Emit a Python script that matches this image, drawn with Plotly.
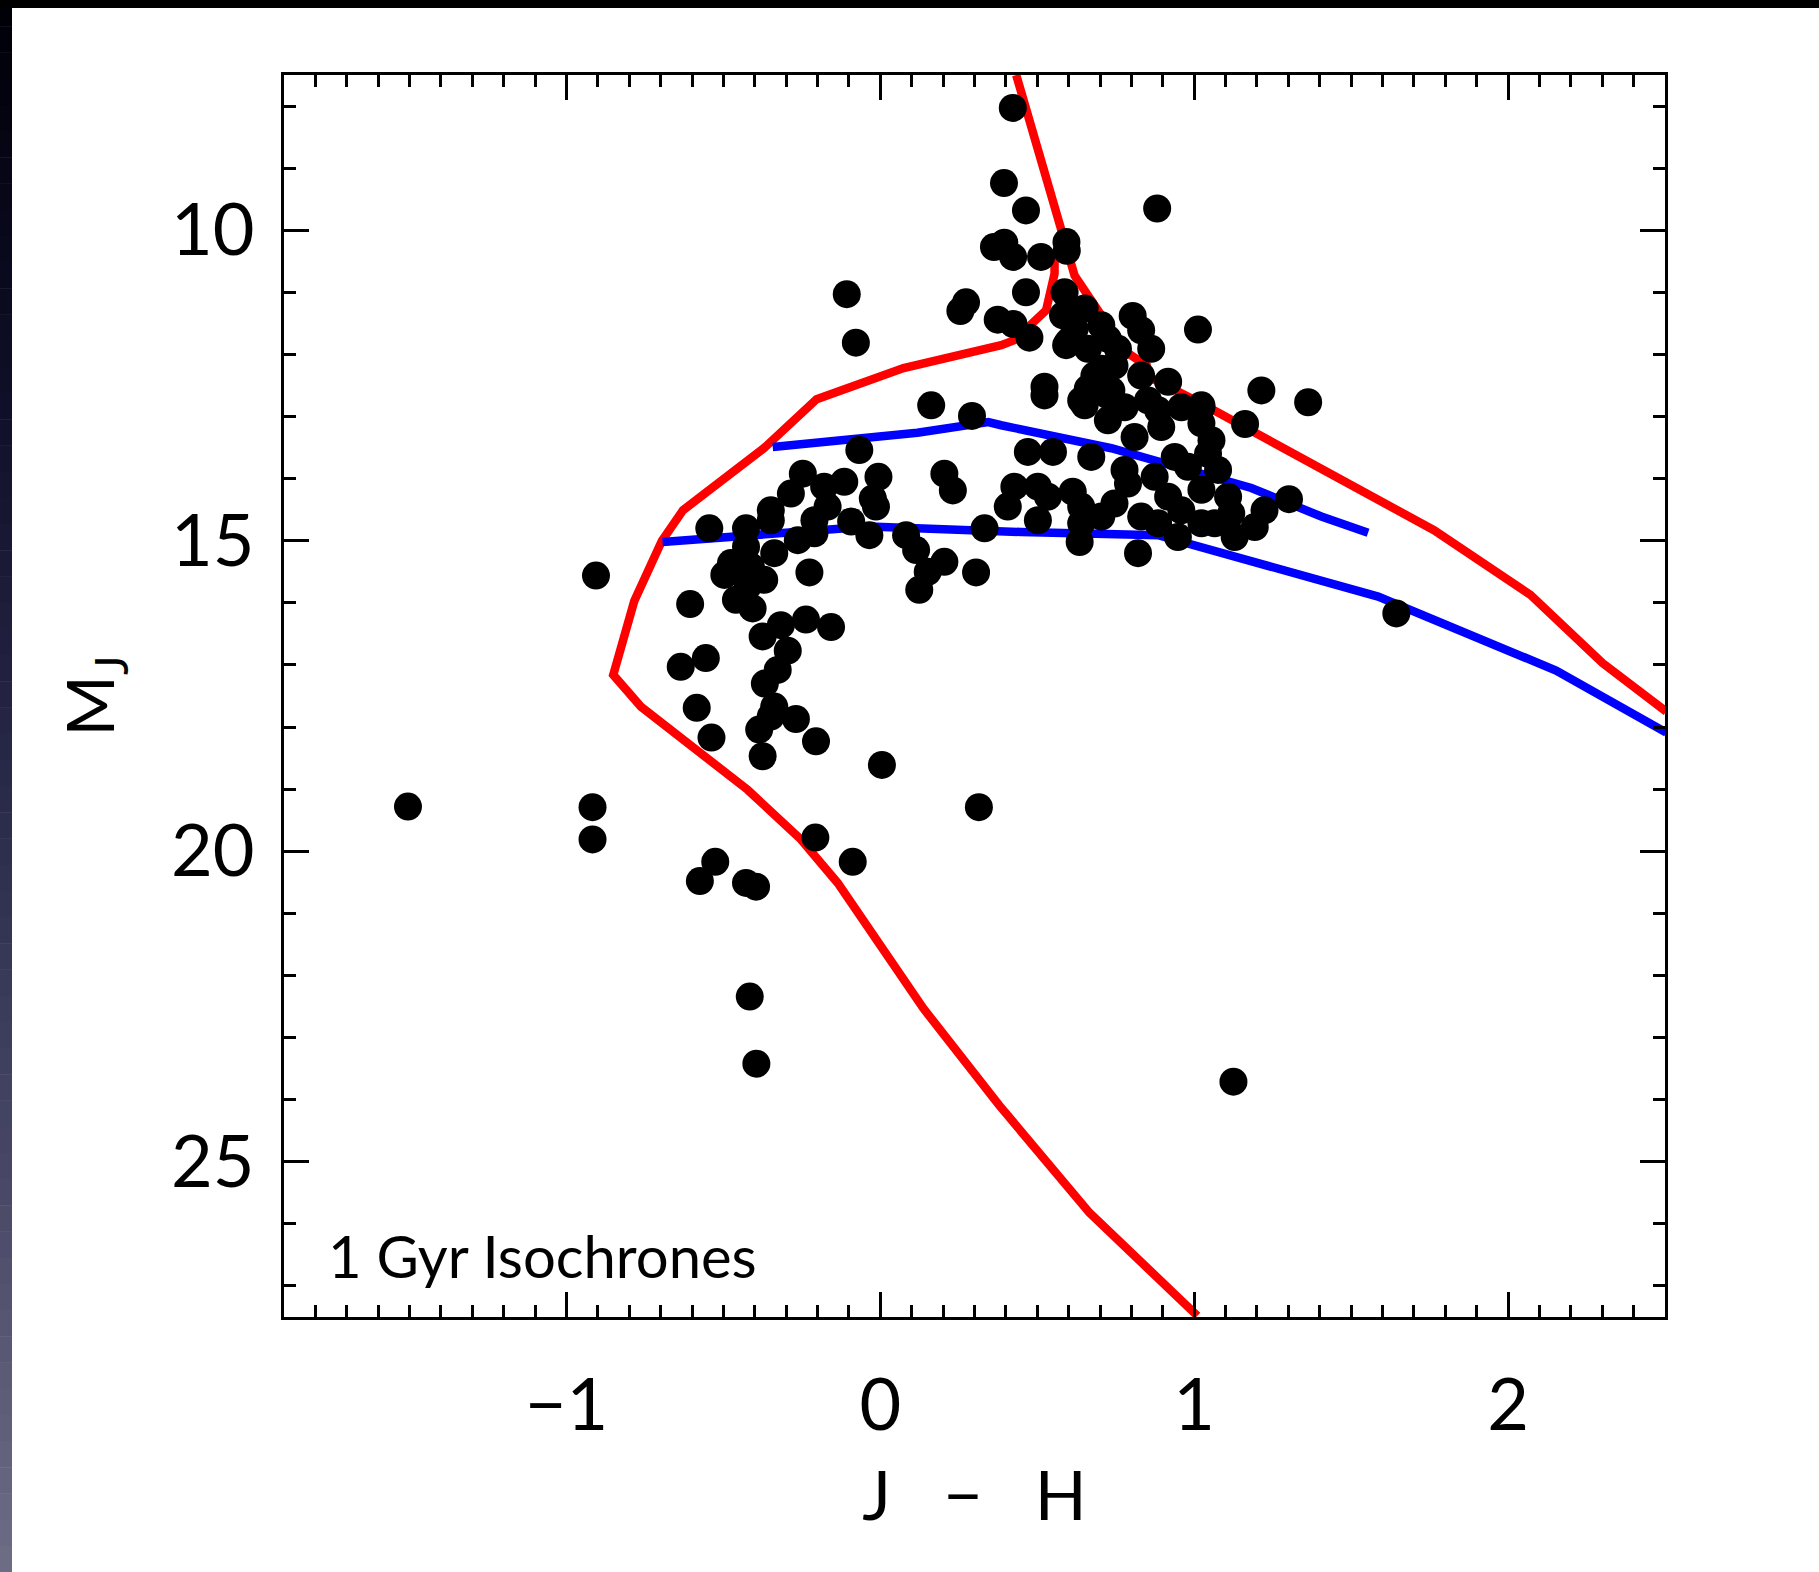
import plotly.graph_objects as go

# ---- sample: J-H colour and absolute J magnitude ----
jh = [
    -1.505, -0.917, -0.917, -0.906, -0.575, -0.526, -0.428, -0.396, -0.416, -0.395,
    -0.207, -0.088, 0.005, 0.314, 1.125, 1.644, 0.882, 0.422, 0.394, 0.464,
    -0.107, -0.078, 1.012, 1.363, 1.214, 1.162, 1.302, 0.162, 0.292, -0.067,
    0.362, 0.395, 0.423, 0.512, 0.593, 0.594, 0.464, 0.273, 0.255, 0.374,
    0.424, 0.475, 0.804, 0.831, 0.863, 0.523, 0.523, 0.587, 0.582, 0.598,
    0.619, 0.651, 0.704, 0.725, 0.661, 0.704, 0.682, 0.661, 0.746, 0.757,
    0.831, 0.917, 1.023, 0.640, 0.725, 0.592, 0.651, 0.736, 0.725, 0.778,
    0.853, 0.885, 0.959, 1.023, 1.023, 0.895, 0.810, 1.055, 1.044, 1.076,
    0.938, 0.980, 0.778, 0.789, 0.874, 0.917, 1.023, 1.108, 1.118, 1.065,
    1.023, 0.959, 0.831, 0.885, 0.948, 1.129, 1.193, 1.224, 0.821, 0.470,
    0.550, 0.672, 0.427, 0.502, 0.534, 0.406, 0.502, 0.613, 0.640, 0.704,
    0.746, 0.640, 0.635, -0.247, -0.285, -0.179, -0.115, -0.006, -0.024, -0.014,
    0.204, 0.231, 0.332, -0.349, -0.349, -0.168, -0.210, -0.093, -0.545, -0.428,
    -0.263, -0.210, -0.035, 0.082, 0.114, 0.204, 0.151, 0.124, 0.305, -0.428,
    -0.338, -0.476, -0.497, -0.444, -0.412, -0.370, -0.423, -0.226, -0.606, -0.460,
    -0.407, -0.375, -0.317, -0.237, -0.157, -0.295, -0.327, -0.368, -0.556, -0.636,
    -0.338, -0.349, -0.386, -0.269, -0.585, -0.538, -0.205, -0.375,
]
mj = [
    19.28, 19.29, 19.81, 15.56, 20.48, 20.17, 20.51, 20.57, 22.34, 23.42,
    19.78, 20.17, 18.61, 19.29, 23.71, 16.17, 9.65, 8.03, 9.24, 9.68,
    11.03, 11.81, 11.60, 12.77, 12.58, 13.12, 14.33, 12.82, 12.99, 13.54,
    10.27, 10.20, 10.43, 10.43, 10.19, 10.33, 11.00, 11.16, 11.30, 11.44,
    11.51, 11.73, 11.38, 11.61, 11.91, 12.52, 12.66, 11.00, 11.37, 11.80,
    11.59, 11.26, 11.53, 11.75, 11.91, 12.23, 12.34, 12.55, 12.18, 11.91,
    12.34, 12.44, 12.82, 12.74, 12.66, 11.85, 12.82, 12.58, 13.06, 12.85,
    12.74, 12.90, 12.85, 12.85, 13.11, 13.17, 13.33, 13.38, 13.60, 13.86,
    13.65, 13.81, 13.86, 14.08, 13.97, 14.29, 14.18, 14.29, 14.56, 14.72,
    14.72, 14.51, 14.61, 14.72, 14.94, 14.94, 14.78, 14.51, 15.20, 13.57,
    13.57, 13.65, 14.13, 14.13, 14.29, 14.45, 14.67, 14.21, 14.45, 14.61,
    14.40, 14.72, 15.02, 13.92, 14.24, 14.13, 14.05, 13.97, 14.32, 14.45,
    13.92, 14.19, 14.80, 14.51, 14.67, 14.45, 14.67, 14.69, 14.80, 14.80,
    14.99, 14.88, 14.91, 14.91, 15.15, 15.34, 15.50, 15.79, 15.51, 15.10,
    15.20, 15.36, 15.55, 15.52, 15.42, 15.63, 15.74, 15.51, 16.02, 15.95,
    16.09, 16.54, 16.36, 16.27, 16.39, 16.77, 17.08, 17.30, 16.89, 17.03,
    17.67, 17.83, 18.04, 17.87, 17.69, 18.17, 18.23, 18.47,
]

# ---- 1 Gyr isochrones ----
red_a_jh = [0.433, 0.619, 0.704, 0.768, 0.848, 0.848, 1.023, 1.533, 1.764, 2.071, 2.301, 2.504]
red_a_mj = [7.50, 10.73, 11.37, 11.91, 12.18, 12.34, 12.79, 14.21, 14.83, 15.87, 16.97, 17.75]

red_b_jh = [0.555, 0.555, 0.528, 0.427, 0.385, 0.074, -0.203, -0.371, -0.629, -0.696,
            -0.784, -0.851, -0.763, -0.423, -0.253, -0.136, 0.137, 0.377, 0.666, 1.010]
red_b_mj = [10.35, 10.70, 11.29, 11.77, 11.85, 12.22, 12.72, 13.51, 14.51, 15.00,
            15.97, 17.16, 17.67, 19.01, 19.81, 20.51, 22.53, 24.08, 25.82, 27.48]

blue_a_jh = [-0.343, 0.118, 0.344, 0.385, 0.736, 1.023, 1.182, 1.405, 1.554]
blue_a_mj = [13.49, 13.26, 13.09, 13.14, 13.51, 13.92, 14.15, 14.61, 14.87]

blue_b_jh = [-0.694, -0.035, 0.449, 0.885, 1.586, 2.153, 2.504]
blue_b_mj = [15.02, 14.77, 14.86, 14.91, 15.90, 17.09, 18.09]

# ---- page geometry ----
W, H = 1819, 1572
ML, MR, MT, MB = 284, 154, 75, 255
PW, PH = W - ML - MR, H - MT - MB
FONT = "Lato, 'Open Sans', sans-serif"


def paper_x(px):
    return (px - ML) / PW


def paper_y(py):
    return 1 - (py - MT) / PH


fig = go.Figure()

line_w = 8.5
fig.add_trace(go.Scatter(x=red_a_jh, y=red_a_mj, mode="lines",
                         line=dict(color="#ff0000", width=line_w), showlegend=False))
fig.add_trace(go.Scatter(x=red_b_jh, y=red_b_mj, mode="lines",
                         line=dict(color="#ff0000", width=line_w), showlegend=False))
fig.add_trace(go.Scatter(x=blue_a_jh, y=blue_a_mj, mode="lines",
                         line=dict(color="#0000ff", width=line_w), showlegend=False))
fig.add_trace(go.Scatter(x=blue_b_jh, y=blue_b_mj, mode="lines",
                         line=dict(color="#0000ff", width=line_w), showlegend=False))
fig.add_trace(go.Scatter(x=jh, y=mj, mode="markers",
                         marker=dict(color="black", size=28, line=dict(width=0)),
                         showlegend=False))

# dark frame: black strip along the top, shaded strip down the left edge
shapes = []
stops = [(0, (0, 0, 8)), (400, (15, 15, 40)), (800, (42, 42, 74)),
         (1200, (74, 74, 104)), (1572, (110, 109, 134))]


def shade(py):
    for (y0, c0), (y1, c1) in zip(stops[:-1], stops[1:]):
        if y0 <= py <= y1:
            t = (py - y0) / (y1 - y0)
            return "rgb(%d,%d,%d)" % tuple(round(a + (b - a) * t) for a, b in zip(c0, c1))
    return "rgb(%d,%d,%d)" % stops[-1][1]


nb = 60
for i in range(nb):
    y0 = H * i / nb
    y1 = H * (i + 1) / nb
    shapes.append(dict(type="rect", xref="paper", yref="paper",
                       x0=paper_x(0), x1=paper_x(12), y0=paper_y(y1 + 0.5), y1=paper_y(y0),
                       fillcolor=shade((y0 + y1) / 2), line=dict(width=0), layer="above"))
shapes.append(dict(type="rect", xref="paper", yref="paper",
                   x0=paper_x(0), x1=paper_x(W), y0=paper_y(8), y1=paper_y(0),
                   fillcolor="black", line=dict(width=0), layer="above"))

axis_common = dict(
    showline=True, linewidth=3, linecolor="black", mirror="allticks",
    ticks="inside", ticklen=25, tickwidth=3, tickcolor="black",
    showgrid=False, zeroline=False,
    tickfont=dict(family=FONT, size=72, color="black"),
)

fig.update_layout(
    width=W, height=H, autosize=False,
    margin=dict(l=ML, r=MR, t=MT, b=MB, pad=0),
    paper_bgcolor="white", plot_bgcolor="white",
    xaxis=dict(range=[-1.9, 2.5], tick0=0, dtick=1,
               minor=dict(tick0=0, dtick=0.1, ticks="inside", ticklen=12,
                          tickwidth=3, tickcolor="black"),
               ticklabelstandoff=24,
               title=dict(text="J   \u2212   H", font=dict(family=FONT, size=68, color="black"),
                          standoff=28),
               **axis_common),
    yaxis=dict(range=[27.5, 7.5], tick0=0, dtick=5,
               minor=dict(tick0=0, dtick=1, ticks="inside", ticklen=12,
                          tickwidth=3, tickcolor="black"),
               ticklabelstandoff=12,
               title=dict(text="M<sub>J</sub>", font=dict(family=FONT, size=66, color="black"),
                          standoff=35),
               **axis_common),
    shapes=shapes,
    annotations=[dict(text="1 Gyr Isochrones", xref="paper", yref="paper",
                      x=paper_x(326), y=paper_y(1255), xanchor="left", yanchor="middle",
                      showarrow=False, font=dict(family=FONT, size=58, color="black"))],
)

fig.write_html("out.html")
